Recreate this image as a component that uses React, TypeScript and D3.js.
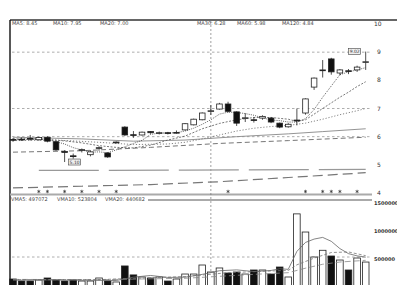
import * as d3 from "d3";
import React, { useEffect, useRef } from "react";

// daily candles (42 sessions)
const opens = [5.9, 5.91, 5.94, 5.89, 5.98, 5.82, 5.47, 5.32, 5.52, 5.36, 5.58, 5.42, 5.78, 6.34, 6.07, 6.06, 6.18, 6.12, 6.14, 6.14, 6.24, 6.42, 6.6, 6.9, 6.98, 7.16, 6.88, 6.65, 6.6, 6.66, 6.66, 6.48, 6.35, 6.57, 6.84, 7.76, 8.35, 8.76, 8.26, 8.34, 8.37, 8.64];
const highs = [5.95, 5.97, 6.06, 6.0, 6.01, 5.85, 5.52, 5.4, 5.58, 5.52, 5.66, 5.45, 5.83, 6.37, 6.2, 6.18, 6.2, 6.18, 6.17, 6.22, 6.48, 6.64, 6.86, 7.12, 7.2, 7.24, 6.9, 6.83, 6.7, 6.76, 6.7, 6.5, 6.48, 7.0, 7.36, 8.1, 8.72, 8.8, 8.4, 8.4, 8.52, 9.02];
const lows = [5.82, 5.85, 5.86, 5.86, 5.8, 5.5, 5.1, 5.22, 5.44, 5.3, 5.5, 5.25, 5.76, 6.03, 5.96, 6.04, 6.1, 6.08, 6.08, 6.1, 6.22, 6.4, 6.58, 6.77, 6.96, 6.86, 6.38, 6.52, 6.5, 6.6, 6.48, 6.3, 6.32, 6.4, 6.78, 7.66, 8.1, 8.2, 8.18, 8.22, 8.3, 8.37];
const closes = [5.88, 5.9, 5.92, 5.97, 5.84, 5.53, 5.45, 5.3, 5.54, 5.46, 5.61, 5.28, 5.81, 6.06, 6.05, 6.16, 6.14, 6.14, 6.12, 6.15, 6.46, 6.62, 6.84, 6.92, 7.16, 6.9, 6.48, 6.67, 6.58, 6.72, 6.52, 6.34, 6.44, 6.59, 7.34, 8.08, 8.37, 8.3, 8.37, 8.32, 8.47, 8.66];
const volumes = [107000, 71000, 71000, 90000, 125000, 90000, 71000, 90000, 71000, 71000, 125000, 71000, 54000, 340000, 180000, 143000, 125000, 143000, 71000, 107000, 196000, 196000, 357000, 232000, 304000, 214000, 232000, 196000, 268000, 268000, 196000, 321000, 143000, 1270000, 946000, 500000, 620000, 518000, 446000, 268000, 482000, 410000];

// moving averages as [session, value]
const ma5: [number, number][] = [[0, 5.9], [2, 5.91], [4, 5.9], [5, 5.82], [6, 5.74], [7, 5.61], [8, 5.53], [9, 5.45], [10, 5.46], [11, 5.43], [12, 5.53], [13, 5.64], [14, 5.76], [15, 5.87], [16, 6.08], [17, 6.13], [18, 6.13], [19, 6.14], [20, 6.2], [21, 6.3], [22, 6.44], [23, 6.6], [24, 6.8], [25, 6.87], [26, 6.86], [27, 6.82], [28, 6.76], [29, 6.67], [30, 6.59], [31, 6.57], [32, 6.52], [33, 6.52], [34, 6.64], [35, 6.96], [36, 7.4], [37, 7.8], [38, 8.2], [39, 8.3], [40, 8.37], [41, 8.45]];
const ma10: [number, number][] = [[0, 5.92], [3, 5.92], [6, 5.85], [8, 5.78], [10, 5.68], [12, 5.62], [14, 5.6], [16, 5.7], [18, 5.88], [20, 6.02], [22, 6.28], [24, 6.47], [26, 6.6], [28, 6.68], [30, 6.68], [32, 6.62], [33, 6.54], [34, 6.6], [35, 6.8], [36, 7.0], [37, 7.2], [38, 7.4], [39, 7.58], [40, 7.78], [41, 7.95]];
const ma20: [number, number][] = [[0, 5.86], [5, 5.88], [10, 5.8], [14, 5.72], [18, 5.74], [20, 5.8], [22, 5.92], [24, 6.06], [26, 6.2], [28, 6.3], [30, 6.36], [32, 6.4], [34, 6.48], [36, 6.62], [38, 6.78], [40, 6.92], [41, 7.0]];
const ma30: [number, number][] = [[0, 5.98], [8, 5.92], [14, 5.84], [20, 5.88], [26, 6.0], [32, 6.1], [36, 6.18], [41, 6.28]];
const ma60: [number, number][] = [[0, 5.45], [8, 5.5], [16, 5.62], [24, 5.76], [32, 5.86], [41, 5.98]];
const ma120: [number, number][] = [[3, 4.8], [20, 4.81], [41, 4.84]];
const ma250: [number, number][] = [[0, 4.18], [8, 4.24], [16, 4.3], [24, 4.4], [32, 4.55], [41, 4.72]];

const vma5: [number, number][] = [[0, 85000], [4, 90000], [8, 85000], [12, 80000], [14, 140000], [16, 170000], [18, 135000], [20, 140000], [22, 190000], [24, 255000], [26, 270000], [28, 240000], [30, 260000], [31, 290000], [32, 280000], [33, 600000], [34, 760000], [35, 820000], [36, 850000], [37, 780000], [38, 650000], [39, 560000], [40, 520000], [41, 497072]];
const vma10: [number, number][] = [[0, 95000], [10, 95000], [14, 120000], [20, 150000], [25, 220000], [30, 250000], [32, 260000], [33, 360000], [35, 480000], [37, 580000], [39, 590000], [41, 523804]];
const vma20: [number, number][] = [[0, 100000], [10, 95000], [20, 120000], [28, 190000], [32, 220000], [34, 300000], [36, 370000], [38, 410000], [41, 440682]];

const priceTicks = [4, 5, 6, 7, 8, 9, 10];
const priceGrid = [6, 7, 9];
const volumeTicks = [500000, 1000000, 1500000];
const volumeGrid = [500000];

const maHeader = ["MA5: 8.45", "MA10: 7.95", "MA20: 7.00", "MA30: 6.28", "MA60: 5.98", "MA120: 4.84"];
const vmaHeader = ["VMA5: 497072", "VMA10: 523804", "VMA20: 440682"];

// sessions flagged with a small star under the candles
const markedDays = [3, 4, 6, 8, 10, 12, 25, 34, 36, 37, 38, 40];
// price notes: lowest low and highest high
const priceNotes = [
  { day: 6, value: 5.1, text: "5.10" },
  { day: 41, value: 9.02, text: "9.02" },
];

const App: React.FC = () => {
  const ref = useRef<HTMLDivElement>(null);

  useEffect(() => {
    if (!ref.current) return;
    d3.select(ref.current).selectAll("*").remove();

    const width = 397,
      height = 285,
      left = 10,
      plotRight = 372;
    const font = "DejaVu Sans, sans-serif";

    const svg = d3
      .select(ref.current)
      .append("svg")
      .attr("width", width)
      .attr("height", height)
      .style("display", "block")
      .style("background", "#fff");

    const days = d3.range(closes.length);
    const x = d3.scalePoint<number>().domain(days).range([8.7, 370]).padding(0.5);
    const y = d3.scaleLinear().domain([4, 10]).range([193, 24]);
    const yv = d3.scaleLinear().domain([0, 1500000]).range([285, 201]);

    // frame
    svg.append("line").attr("x1", left).attr("x2", width).attr("y1", 20).attr("y2", 20)
      .attr("stroke", "#333").attr("stroke-width", 1.4);
    svg.append("line").attr("x1", left).attr("x2", left).attr("y1", 20).attr("y2", height)
      .attr("stroke", "#111").attr("stroke-width", 1.4);
    svg.append("line").attr("x1", left).attr("x2", plotRight).attr("y1", y(4) + 1.5).attr("y2", y(4) + 1.5)
      .attr("stroke", "#aaa").attr("stroke-width", 2);
    svg.append("line").attr("x1", 148).attr("x2", plotRight).attr("y1", yv(1500000) - 1).attr("y2", yv(1500000) - 1)
      .attr("stroke", "#aaa").attr("stroke-width", 2);

    // grids
    svg.append("g").selectAll("line").data(priceGrid).enter().append("line")
      .attr("x1", left + 2).attr("x2", plotRight).attr("y1", (d) => y(d)).attr("y2", (d) => y(d))
      .attr("stroke", "#999").attr("stroke-width", 0.8).attr("stroke-dasharray", "2.5,2.5");
    svg.append("g").selectAll("line").data(volumeGrid).enter().append("line")
      .attr("x1", left + 2).attr("x2", plotRight).attr("y1", (d) => yv(d)).attr("y2", (d) => yv(d))
      .attr("stroke", "#999").attr("stroke-width", 0.8).attr("stroke-dasharray", "2.5,2.5");
    svg.append("line").attr("x1", x(23)!).attr("x2", x(23)!).attr("y1", 21).attr("y2", height)
      .attr("stroke", "#777").attr("stroke-width", 0.7).attr("stroke-dasharray", "2,2");

    // right axis labels
    svg.append("g").selectAll("text").data(priceTicks).enter().append("text")
      .attr("x", (d) => (d === 10 ? 374 : 377)).attr("y", (d) => y(d)).attr("dy", "0.35em")
      .style("font-family", font).style("font-size", "6px").style("fill", "#333")
      .text((d) => String(d));
    svg.append("g").selectAll("text").data(volumeTicks).enter().append("text")
      .attr("x", 374).attr("y", (d) => yv(d) + 2).attr("dy", "0.35em")
      .style("font-family", font).style("font-size", "5px").style("font-weight", "bold").style("fill", "#333")
      .text((d) => String(d));

    // headers
    const headerX = [12, 53, 100, 197, 237, 282];
    svg.append("g").selectAll("text").data(maHeader).enter().append("text")
      .attr("x", (_, i) => headerX[i]).attr("y", 25)
      .style("font-family", font).style("font-size", "5px").style("fill", "#444")
      .text((d) => d);
    const vHeaderX = [11, 57, 105];
    svg.append("g").selectAll("text").data(vmaHeader).enter().append("text")
      .attr("x", (_, i) => vHeaderX[i]).attr("y", 200.5)
      .style("font-family", font).style("font-size", "5px").style("fill", "#444")
      .text((d) => d);

    // moving averages
    const priceLine = d3.line<[number, number]>().x((d) => x(d[0])!).y((d) => y(d[1]));
    const maStyles: { pts: [number, number][]; color: string; dash: string; w: number }[] = [
      { pts: ma250, color: "#777", dash: "10,5", w: 1.2 },
      { pts: ma120, color: "#999", dash: "60,10", w: 1.2 },
      { pts: ma60, color: "#666", dash: "5,3", w: 0.9 },
      { pts: ma30, color: "#888", dash: "none", w: 0.9 },
      { pts: ma20, color: "#666", dash: "1.2,1.8", w: 0.8 },
      { pts: ma10, color: "#555", dash: "2,1.5", w: 0.8 },
      { pts: ma5, color: "#333", dash: "1,1.2", w: 0.8 },
    ];
    svg.append("g").selectAll("path").data(maStyles).enter().append("path")
      .attr("d", (d) => priceLine(d.pts))
      .attr("fill", "none").attr("stroke", (d) => d.color).attr("stroke-width", (d) => d.w)
      .attr("stroke-dasharray", (d) => d.dash);

    // candles
    const bw = 5.6;
    const candles = svg.append("g").selectAll("g").data(days).enter().append("g");
    candles.append("line")
      .attr("x1", (i) => x(i)!).attr("x2", (i) => x(i)!)
      .attr("y1", (i) => y(highs[i])).attr("y2", (i) => y(lows[i]))
      .attr("stroke", "#222").attr("stroke-width", 0.8);
    candles.append("rect")
      .attr("x", (i) => x(i)! - bw / 2)
      .attr("y", (i) => y(Math.max(opens[i], closes[i])))
      .attr("width", bw)
      .attr("height", (i) => Math.max(0.8, Math.abs(y(opens[i]) - y(closes[i]))))
      .attr("fill", (i) => (closes[i] < opens[i] ? "#111" : "#fff"))
      .attr("stroke", "#222").attr("stroke-width", 0.8);

    // price notes
    const notes = svg.append("g").selectAll("g").data(priceNotes).enter().append("g")
      .attr("transform", (d) => `translate(${x(d.day)! + (d.day > 30 ? -17 : 4)},${y(d.value)})`);
    notes.append("rect").attr("x", 0).attr("y", -3).attr("width", 12).attr("height", 6)
      .attr("fill", "#eee").attr("stroke", "#444").attr("stroke-width", 0.6);
    notes.append("text").attr("x", 6).attr("y", 0).attr("dy", "0.35em").attr("text-anchor", "middle")
      .style("font-family", font).style("font-size", "4.5px").style("fill", "#333")
      .text((d) => d.text);

    // stars under the candles
    svg.append("g").selectAll("path").data(markedDays).enter().append("path")
      .attr("transform", (i) => `translate(${x(i)},${y(4) - 1.5})`)
      .attr("d", d3.symbol(d3.symbolAsterisk, 8)())
      .attr("fill", "none").attr("stroke", "#333").attr("stroke-width", 0.7);

    // volume bars
    const vbw = 6.6;
    svg.append("g").selectAll("rect").data(days).enter().append("rect")
      .attr("x", (i) => x(i)! - vbw / 2)
      .attr("y", (i) => yv(volumes[i]))
      .attr("width", vbw)
      .attr("height", (i) => yv(0) - yv(volumes[i]) + 2)
      .attr("fill", (i) => (closes[i] < opens[i] ? "#111" : "#fff"))
      .attr("stroke", "#222").attr("stroke-width", 0.8);

    const volLine = d3.line<[number, number]>().x((d) => x(d[0])!).y((d) => yv(d[1]));
    const vmaStyles: { pts: [number, number][]; color: string; dash: string }[] = [
      { pts: vma20, color: "#888", dash: "6,3" },
      { pts: vma10, color: "#777", dash: "3,2" },
      { pts: vma5, color: "#666", dash: "none" },
    ];
    svg.append("g").selectAll("path").data(vmaStyles).enter().append("path")
      .attr("d", (d) => volLine(d.pts))
      .attr("fill", "none").attr("stroke", (d) => d.color).attr("stroke-width", 0.8)
      .attr("stroke-dasharray", (d) => d.dash);
  }, []);

  return <div ref={ref} style={{ position: "fixed", left: 0, top: 0 }}></div>;
};

export default App;
